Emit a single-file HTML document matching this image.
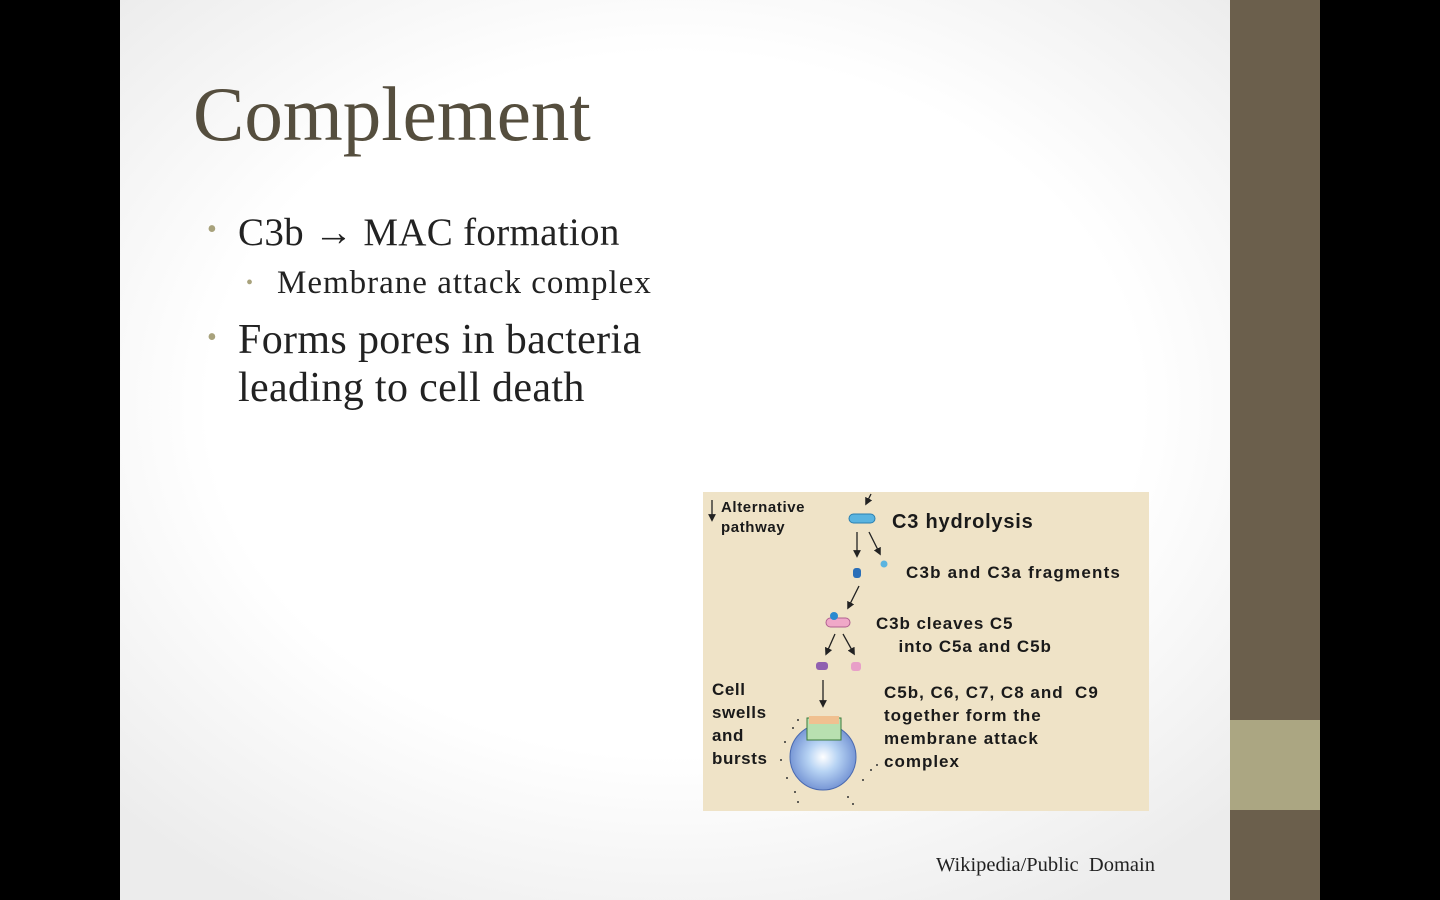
<!DOCTYPE html>
<html><head><style>
body{margin:0;width:1440px;height:900px;background:#000;position:relative;overflow:hidden;font-family:"Liberation Serif",serif}
#slide{position:absolute;left:120px;top:0;width:1110px;height:900px;background:radial-gradient(ellipse 70% 65% at 50% 45%,#fff 60%,#ececec 100%)}
.bar{position:absolute;left:1230px;width:90px}
.t{position:absolute;white-space:nowrap}
.b{position:absolute;color:#a8a27c;font-size:28px}
.d{position:absolute;font-family:"Liberation Sans",sans-serif;font-weight:bold;color:#1a1a1a;white-space:nowrap;letter-spacing:0.6px}
</style></head><body>
<div id="slide"></div>
<div class="bar" style="top:0;height:720px;background:#6b5f4c"></div>
<div class="bar" style="top:720px;height:90px;background:#aba682"></div>
<div class="bar" style="top:810px;height:90px;background:#6b5f4c"></div>
<div class="t" style="left:193px;top:70px;font-size:77px;color:#554e3e">Complement</div>
<div class="b" style="left:207px;top:214px">•</div>
<div class="t" style="left:238px;top:210px;font-size:39px;color:#222;letter-spacing:0.3px">C3b <b style="font-family:'Liberation Sans',sans-serif">→</b> MAC formation</div>
<div class="b" style="left:246px;top:272px;font-size:20px">•</div>
<div class="t" style="left:277px;top:265px;font-size:33px;color:#222;letter-spacing:1px">Membrane attack complex</div>
<div class="b" style="left:207px;top:322px">•</div>
<div class="t" style="left:238px;top:316px;font-size:42px;color:#222;line-height:48px;letter-spacing:0.35px">Forms pores in bacteria<br>leading to cell death</div>
<div class="t" style="left:936px;top:854px;font-size:20.5px;color:#222">Wikipedia/Public&nbsp; Domain</div>
<div style="position:absolute;left:703px;top:492px;width:446px;height:319px;background:#efe3c7"></div>
<svg style="position:absolute;left:703px;top:492px" width="446" height="319">
<defs><marker id="a" markerWidth="6" markerHeight="6" refX="3" refY="3" orient="auto"><path d="M0,0L6,3L0,6z" fill="#222"/></marker>
<radialGradient id="g" cx="0.5" cy="0.5" r="0.55"><stop offset="0" stop-color="#fff"/><stop offset="0.4" stop-color="#b8d4f4"/><stop offset="1" stop-color="#6c8cd0"/></radialGradient></defs>
<g stroke="#222" stroke-width="1.3" marker-end="url(#a)">
<line x1="9" y1="8" x2="9" y2="26"/>
<line x1="168" y1="2" x2="164" y2="10"/>
<line x1="154" y1="40" x2="154" y2="62"/>
<line x1="166" y1="40" x2="176" y2="60"/>
<line x1="156" y1="94" x2="146" y2="114"/>
<line x1="132" y1="142" x2="124" y2="160"/>
<line x1="140" y1="142" x2="150" y2="160"/>
<line x1="120" y1="188" x2="120" y2="212"/>
</g>
<rect x="146" y="22" width="26" height="9" rx="4.5" fill="#5ab4e0" stroke="#2a7fb0"/>
<rect x="150" y="76" width="8" height="10" rx="3" fill="#2a6fb8"/>
<circle cx="181" cy="72" r="3.5" fill="#5ab4e0"/>
<rect x="123" y="126" width="24" height="9" rx="4.5" fill="#f0a8c8" stroke="#b06090"/>
<circle cx="131" cy="124" r="4" fill="#2a8ad0"/>
<rect x="113" y="170" width="12" height="8" rx="3" fill="#9060b0"/>
<rect x="148" y="170" width="10" height="9" rx="3" fill="#e8a0c8"/>
<circle cx="120" cy="265" r="33" fill="url(#g)" stroke="#4a6ab0"/>
<rect x="104" y="226" width="34" height="22" fill="#b8e0b0" stroke="#3a7a3a"/>
<rect x="106" y="224" width="30" height="8" fill="#f0c090"/>
<g fill="#333"><circle cx="95" cy="228" r="1"/><circle cx="90" cy="236" r="1"/><circle cx="82" cy="250" r="1"/><circle cx="78" cy="268" r="1"/><circle cx="84" cy="286" r="1"/><circle cx="92" cy="300" r="1"/><circle cx="95" cy="310" r="1"/><circle cx="145" cy="305" r="1"/><circle cx="150" cy="312" r="1"/><circle cx="160" cy="288" r="1"/><circle cx="168" cy="278" r="1"/><circle cx="174" cy="273" r="1"/></g>
</svg>
<div class="d" style="left:721px;top:498px;font-size:15px;line-height:20px">Alternative<br>pathway</div>
<div class="d" style="left:892px;top:511px;font-size:20px;letter-spacing:0.8px">C3 hydrolysis</div>
<div class="d" style="left:906px;top:563px;font-size:17px;letter-spacing:1.2px">C3b and C3a fragments</div>
<div class="d" style="left:876px;top:612px;font-size:17px;line-height:23px;letter-spacing:0.9px">C3b cleaves C5<br>&nbsp;&nbsp;&nbsp;&nbsp;into C5a and C5b</div>
<div class="d" style="left:712px;top:678px;font-size:17px;line-height:23px">Cell<br>swells<br>and<br>bursts</div>
<div class="d" style="left:884px;top:681px;font-size:17px;line-height:23px;letter-spacing:1px">C5b, C6, C7, C8 and&nbsp; C9<br>together form the<br>membrane attack<br>complex</div>
</body></html>
